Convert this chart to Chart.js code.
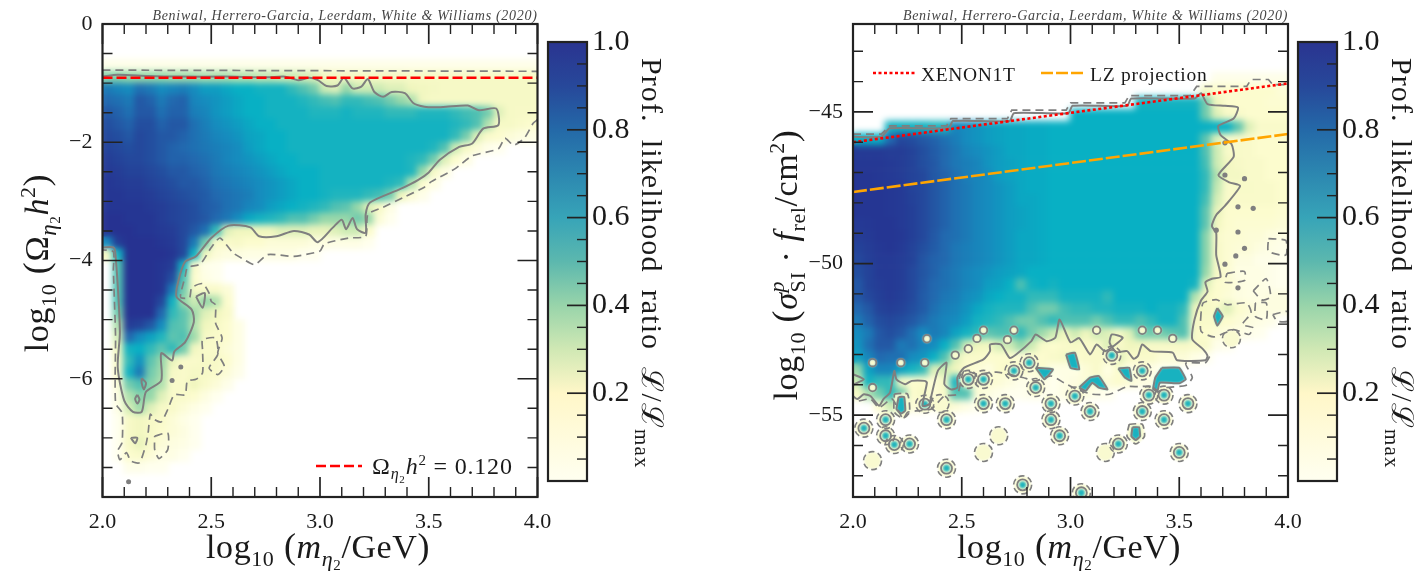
<!DOCTYPE html>
<html><head><meta charset="utf-8">
<script src="https://cdn.jsdelivr.net/npm/chart.js@4"></script>
<style>
html,body{margin:0;padding:0;background:#fff;width:1422px;height:573px;overflow:hidden}
canvas{position:absolute;top:0;filter:blur(0.45px)}
</style></head><body>
<canvas id="c1" width="565" height="573" style="left:0;width:565px;height:573px"></canvas>
<canvas id="b1" width="175" height="573" style="left:545px;width:175px;height:573px"></canvas>
<canvas id="c2" width="600" height="573" style="left:720px;width:600px;height:573px"></canvas>
<canvas id="b2" width="127" height="573" style="left:1295px;width:127px;height:573px"></canvas>
<script>
// ---------- axis ticks ----------
const xMajor=[2,2.5,3,3.5,4];
const xMinor=[2.1,2.2,2.3,2.4,2.6,2.7,2.8,2.9,3.1,3.2,3.3,3.4,3.6,3.7,3.8,3.9];
const leftYMajor=[0,-2,-4,-6,-8];
const leftYMinor=[-0.5,-1,-1.5,-2.5,-3,-3.5,-4.5,-5,-5.5,-6.5,-7,-7.5];
const rightYMajor=[-45,-50,-55];
const rightYMinor=[-43,-44,-46,-47,-48,-49,-51,-52,-53,-54,-56,-57];
const cbarMajor=[0.2,0.4,0.6,0.8,1.0];
const cbarMinor=[0.05,0.1,0.15,0.25,0.3,0.35,0.45,0.5,0.55,0.65,0.7,0.75,0.85,0.9,0.95];
// ---------- heat columns: x centres ----------
const heatX=[2.025,2.075,2.125,2.175,2.225,2.275,2.325,2.375,2.425,2.475,2.525,2.575,2.625,2.675,2.725,2.775,2.825,2.875,2.925,2.975,3.025,3.075,3.125,3.175,3.225,3.275,3.325,3.375,3.425,3.475,3.525,3.575,3.625,3.675,3.725,3.775,3.825,3.875,3.925,3.975];
// ---------- left panel: likelihood (percent), 0 = no samples ----------
const leftRowY=[-0.7,-0.9,-1.1,-1.3,-1.5,-1.7,-1.9,-2.1,-2.3,-2.5,-2.7,-2.9,-3.1,-3.3,-3.5,-3.7,-3.9,-4.1,-4.3,-4.5,-4.7,-4.9,-5.1,-5.3,-5.5,-5.7,-5.9,-6.1,-6.3,-6.5,-6.7,-6.9,-7.1,-7.3,-7.5];
const leftRows=[
[4,4,4,4,4,4,4,4,4,4,4,4,4,4,4,4,4,4,4,4,4,4,4,4,4,4,4,4,4,4,4,4,4,4,4,4,4,4,4,4],
[42,42,40,40,40,40,38,38,38,36,36,36,34,34,32,32,30,30,28,26,18,18,16,16,16,16,16,16,15,15,15,15,15,15,15,15,15,15,15,15],
[75,72,70,78,75,70,72,74,70,66,66,64,62,62,60,60,60,55,50,45,30,25,40,30,30,30,25,25,20,18,16,15,15,15,15,15,15,15,15,15],
[80,78,75,85,82,75,80,82,72,70,68,66,64,62,62,60,60,60,58,55,52,50,55,55,52,50,45,40,35,18,15,15,15,15,15,15,15,15,15,15],
[85,82,78,85,85,78,82,82,74,72,68,66,64,62,62,60,60,60,60,58,58,58,60,58,58,58,55,55,55,58,58,58,55,52,50,45,25,15,14,14],
[88,85,82,88,88,82,85,85,78,74,70,68,66,64,62,62,60,60,60,60,60,60,60,60,60,60,60,60,60,60,60,60,58,55,50,35,15,15,12,10],
[90,88,85,90,88,85,85,82,78,75,72,70,68,65,64,62,62,60,60,60,60,60,60,60,60,60,60,60,60,60,60,60,55,45,25,12,10,8,6,5],
[92,90,88,90,88,85,82,80,78,76,74,72,70,66,64,62,62,60,60,60,60,60,60,60,60,60,60,60,60,60,58,50,30,15,8,4,3],
[95,92,90,90,88,85,82,82,80,78,75,72,70,68,66,64,62,62,60,60,60,60,60,60,60,60,60,60,58,55,45,25,10,5],
[96,95,92,92,90,88,85,85,82,80,76,74,72,70,68,66,64,62,62,62,60,60,60,60,60,60,60,60,58,40,15,6],
[98,96,95,95,92,90,88,85,85,82,78,76,74,72,70,68,66,64,62,62,60,60,60,60,60,60,58,55,35,10,5],
[98,98,96,96,95,92,90,88,86,84,80,78,76,74,70,68,66,64,62,62,60,58,58,58,55,52,45,20,8,4],
[98,98,98,98,96,95,92,90,88,84,82,78,76,72,70,66,64,62,60,58,55,50,48,40,25,15,5],
[100,100,98,98,98,95,92,90,88,85,80,76,70,64,60,58,55,50,50,45,40,40,40,45,40,8,3],
[100,100,100,98,98,96,95,90,85,78,55,25,20,20,20,20,25,25,25,22,22,25,30,30,10],
[70,95,100,100,100,98,96,90,75,45,12,12,14,10,10,8,8,8,8,6,6,5,5,5,3],
[15,60,100,100,100,100,98,90,60,20,8,6,6,5,5,5,5,5,3,3],
[0,50,100,100,100,98,95,60,12,4,3],
[0,50,100,100,100,98,88,50,10,5,3],
[0,50,100,100,100,98,75,45,15,12,12,8],
[0,50,100,100,100,90,60,40,30,40,35,10],
[0,45,100,100,100,80,55,48,38,25,20,12],
[0,35,95,92,85,70,50,48,35,20,15,10,5],
[0,28,80,70,65,58,48,50,38,15,12,10,5],
[0,20,60,62,55,48,55,45,18,12,12,8,5],
[0,15,55,68,48,40,22,12,12,14,14,10,5],
[0,12,60,75,45,38,15,12,15,14,12,8,4],
[0,8,45,50,42,35,12,12,20,12,8,4],
[0,6,35,42,40,25,12,12,10,6,3],
[0,5,28,38,25,15,12,8,5,3],
[0,3,14,18,14,12,8,5,3],
[0,3,14,18,14,10,8,6,3],
[0,3,14,22,12,8,6,5,3],
[0,3,10,12,8,5,5,3],
[0,0,4,4,3,3]
];
// ---------- right panel: likelihood (percent) with first column of each row ----------
const rightRowY=[-43.9,-44.3,-44.7,-45.1,-45.5,-45.9,-46.3,-46.7,-47.1,-47.5,-47.9,-48.3,-48.7,-49.1,-49.5,-49.9,-50.3,-50.7,-51.1,-51.5,-51.9,-52.3,-52.7,-53.1,-53.5,-53.9,-54.3,-54.7];
const rightRowStart=[33,32,26,20,3,0,0,0,0,0,0,0,0,0,0,0,0,0,0,0,0,0,0,0,0,0,0,0];
const rightRows=[
[4,4,4,4,4,4,4],
[15,10,10,10,10,10,10,8],
[60,60,60,60,60,60,45,20,10,10,10,10,9,9],
[62,62,62,62,62,62,62,62,62,62,62,62,45,25,14,12,10,10,10,10],
[60,60,60,60,58,58,72,70,68,66,65,64,64,63,63,62,62,62,62,62,62,62,62,62,62,62,62,62,62,62,62,62,48,25,12,12,12,10,10,10],
[62,62,62,80,90,88,85,82,78,74,70,68,66,65,64,64,63,63,62,62,62,62,62,62,62,62,62,62,62,62,62,62,48,25,12,12,12,10,10,10],
[96,96,96,95,95,92,88,84,80,76,72,70,68,66,64,64,63,63,62,62,62,62,62,62,62,62,62,62,62,62,62,62,50,30,13,13,12,10,10,10],
[97,97,97,96,95,92,88,85,80,76,74,72,68,66,65,64,63,63,62,62,62,62,62,62,62,62,62,62,62,62,62,62,52,30,18,14,12,12,10,10],
[98,98,97,96,95,92,90,85,82,78,74,72,70,66,65,64,63,63,62,62,62,62,62,62,62,62,62,62,62,62,62,62,55,35,16,16,12,12,10,10],
[98,98,98,97,96,92,90,86,82,78,75,72,70,68,66,64,63,63,62,62,62,62,62,62,62,62,62,62,62,62,62,62,55,32,12,13,13,12,12,10],
[98,98,98,97,96,93,90,86,82,78,75,72,70,68,66,64,64,63,62,62,62,62,62,62,62,62,62,62,62,62,62,62,52,28,12,12,12,12,12,10],
[98,98,98,97,96,94,90,86,82,78,75,72,70,68,66,65,64,63,62,62,62,62,62,62,62,62,62,62,62,62,62,62,48,22,10,10,10,10,10,9],
[96,97,98,98,96,94,90,86,82,78,75,72,70,68,66,65,64,63,62,62,62,62,62,62,62,62,62,62,62,62,62,62,48,18,10,9,9,9,9,8],
[95,96,98,98,97,94,90,85,80,78,75,72,70,68,66,64,64,63,62,62,62,62,62,62,62,62,62,62,62,62,62,62,42,12,9,9,8,8,6,5],
[92,95,97,98,96,92,88,84,80,76,74,72,70,68,66,64,64,63,62,62,62,62,62,62,62,62,62,62,62,62,62,62,42,14,9,8,8,6,5,4],
[90,94,96,96,95,92,86,82,80,76,74,72,70,68,66,64,64,63,62,62,62,62,62,62,62,62,62,62,62,62,62,62,42,14,9,6,6,4,4,3],
[88,92,96,96,95,90,86,82,78,75,72,70,68,66,65,64,62,62,62,62,62,62,62,62,62,62,62,62,62,62,62,62,40,14,9,5,5,5,4,3],
[85,92,95,96,95,90,85,80,78,75,72,70,66,65,62,50,60,62,60,62,62,62,62,62,62,62,62,62,62,62,62,60,25,10,9,6,5,5,4,3],
[85,90,94,96,94,90,84,80,76,74,70,68,64,62,60,60,55,55,55,60,60,60,60,55,62,62,62,62,62,62,62,35,15,10,8,6,5,5,6,6],
[80,85,92,94,92,88,84,78,74,72,68,64,60,58,58,58,50,45,45,52,55,55,58,58,60,60,60,62,60,60,55,20,15,12,25,10,8,6,6,6],
[75,82,88,90,88,85,80,75,72,70,66,60,58,55,50,45,45,50,55,50,50,50,45,50,55,55,50,55,60,60,50,15,12,12,10,8,6,5,4],
[70,75,85,88,85,78,70,75,72,65,60,55,48,50,50,55,45,38,30,20,30,20,30,25,15,25,45,45,45,48,50,12,10,8,6,5,4,3],
[68,78,85,85,75,78,72,70,62,50,30,20,18,28,30,40,30,12,10,12,15,12,12,25,12,20,18,14,14,14,14,12,12,4,3],
[65,72,80,78,78,70,68,62,50,25,12,12,10,10,10,8,10,10,12,15,10,12,12,12,25,12,12,12,8,8,8,5,3],
[40,65,72,72,65,60,55,25,30,20,10,8,6,10,12,12,8,10,5,5,5,8,12,5,10,5,5,5,3,3],
[30,60,55,55,15,10,10,8,15,60,10,8,10,8,6,4,4,6,3,5,6,8,8,8,10,8,6,5,3],
[15,35,45,55,45,10,15,8,12,50,50,8,6,4,3,3,4,4,3,5,8,6,4,3],
[0,0,10,30,25,8,8,4,15,8,5,3]
];
// ---------- left contours (log10 m, log10 Omega h2) ----------
const leftSolid=[
[[2,-.89],[2.07,-.86],[2.21,-.88],[2.35,-.89],[2.56,-.89],[2.76,-.9],[2.84,-.89],[2.9,-.95],[2.95,-.91],[2.99,-.95],[3.03,-1.05],[3.08,-1.04],[3.11,-.91],[3.15,-1.09],[3.19,-1.06],[3.22,-.93],[3.25,-1.15],[3.29,-1.23],[3.33,-1.15],[3.39,-1.17],[3.43,-1.34],[3.48,-1.4],[3.53,-1.41],[3.58,-1.4],[3.68,-1.38],[3.73,-1.46],[3.81,-1.43],[3.82,-1.71],[3.75,-1.77],[3.7,-2.02],[3.64,-2.08],[3.55,-2.3],[3.5,-2.51],[3.45,-2.64],[3.37,-2.79],[3.23,-3.02],[3.21,-3.22],[3.21,-3.53],[3.17,-3.47],[3.15,-3.28],[3.12,-3.47],[3.1,-3.31],[3.06,-3.44],[2.99,-3.69],[2.95,-3.56],[2.88,-3.5],[2.8,-3.59],[2.72,-3.59],[2.68,-3.44],[2.58,-3.41],[2.5,-3.62],[2.43,-3.93],[2.38,-4.02],[2.35,-4.33],[2.34,-4.61],[2.41,-4.83],[2.42,-5.04],[2.38,-5.38],[2.33,-5.54],[2.32,-5.69],[2.27,-5.57],[2.27,-6.03],[2.2,-6.22],[2.18,-6.56],[2.14,-6.56],[2.1,-6.37],[2.07,-5.81],[2.08,-5.2],[2.06,-3.9],[2.05,-3.78],[2,-3.78]],
[[2.43,-4.61],[2.47,-4.55],[2.46,-4.8],[2.43,-4.61]],
[[2.18,-5.99],[2.2,-6.07],[2.19,-6.18],[2.18,-6.07],[2.18,-5.99]],
[[2.16,-6.27],[2.17,-6.35],[2.16,-6.42],[2.15,-6.34],[2.16,-6.27]],
[[2.13,-7],[2.16,-7],[2.15,-7.09],[2.13,-7]]
];
const leftDashed=[
[[2,-.78],[4,-.8]],
[[4,-1.62],[3.98,-1.68],[3.94,-1.93],[3.89,-2.05],[3.85,-1.93],[3.82,-2.11],[3.7,-2.23],[3.62,-2.45],[3.51,-2.67],[3.48,-2.76],[3.38,-2.94],[3.29,-3.1],[3.22,-3.22],[3.21,-3.59],[3.13,-3.62],[3.02,-3.72],[3,-3.84],[2.88,-3.93],[2.76,-3.9],[2.7,-4.07],[2.64,-3.96],[2.6,-3.87],[2.54,-3.62],[2.5,-3.78],[2.45,-4.06],[2.39,-4.12],[2.38,-4.27],[2.36,-4.55],[2.36,-4.63],[2.4,-4.63],[2.41,-4.46],[2.46,-4.39],[2.49,-4.55],[2.5,-4.69],[2.52,-4.75],[2.52,-5.06],[2.55,-5.31],[2.53,-5.56],[2.56,-5.79],[2.53,-5.93],[2.49,-5.82],[2.53,-5.59],[2.52,-5.31],[2.46,-5.34],[2.46,-5.51],[2.46,-5.9],[2.43,-6.01],[2.39,-6.04],[2.38,-6.27],[2.33,-6.27],[2.3,-6.52],[2.27,-6.73],[2.24,-6.69],[2.22,-6.6],[2.21,-6.91],[2.2,-7.11],[2.17,-7.42],[2.13,-7.39],[2.11,-7.25],[2.08,-7.37],[2.07,-7.22],[2.09,-7.08],[2.09,-6.58],[2.06,-6.41],[2.06,-5.28],[2.05,-4.16],[2.05,-3.85],[2,-3.82]],
[[2.24,-6.97],[2.3,-6.92],[2.3,-7.2],[2.26,-7.35],[2.24,-7.2],[2.24,-6.97]]
];
const leftDotsX=[2.32,2.12,2.36];
const leftDotsY=[-6.03,-7.74,-5.8];
const relicX=[2,4];
const relicY=[-0.91,-0.91];
// ---------- right contours (log10 m, log10 sigma) ----------
const rightSolid=[
[[2,-45.82],[2.13,-45.82],[2.17,-45.54],[2.44,-45.54],[2.46,-45.3],[2.72,-45.3],[2.74,-45.04],[2.99,-45.04],[3.01,-44.8],[3.26,-44.8],[3.28,-44.56],[3.57,-44.56],[3.6,-44.38],[3.63,-44.74],[3.71,-44.8],[3.77,-44.86],[3.75,-45.22],[3.68,-45.46],[3.69,-45.76],[3.74,-46.06],[3.75,-46.48],[3.68,-47.08],[3.73,-47.32],[3.78,-47.44],[3.71,-48.1],[3.67,-48.4],[3.65,-48.76],[3.67,-49],[3.67,-49.72],[3.69,-50.44],[3.65,-50.5],[3.62,-50.62],[3.63,-50.92],[3.6,-51.22],[3.57,-51.85],[3.56,-52.5],[3.61,-52.83],[3.63,-53.05],[3.62,-53.19],[3.49,-53.19],[3.47,-52.94],[3.37,-52.89],[3.33,-52.67],[3.31,-53.05],[3.29,-53.14],[3.26,-52.89],[3.21,-52.92],[3.18,-52.61],[3.19,-52.34],[3.24,-52.45],[3.16,-52.89],[3.12,-52.67],[3.09,-53],[3.04,-52.46],[3,-52.6],[2.95,-51.85],[2.93,-52.45],[2.89,-52.56],[2.84,-52.34],[2.82,-52.56],[2.75,-53],[2.72,-53.11],[2.68,-52.67],[2.63,-52.67],[2.63,-52.89],[2.6,-53.16],[2.51,-53.44],[2.48,-53.76],[2.48,-54.09],[2.45,-54.15],[2.42,-53.98],[2.43,-53.27],[2.39,-53.54],[2.36,-54.37],[2.35,-54.64],[2.32,-54.69],[2.34,-53.93],[2.33,-53.87],[2.27,-53.87],[2.24,-53.98],[2.2,-53.82],[2.19,-53.54],[2.17,-54.26],[2.14,-54.47],[2.12,-54.69],[2.08,-54.37],[2.05,-54.31],[2.02,-54.47],[2,-54.37]],
[[2,-53.65],[2.05,-53.82],[2,-54]]
];
const rightDashed=[
[[2,-45.73],[2.13,-45.73],[2.17,-45.46],[2.43,-45.46],[2.45,-45.22],[2.71,-45.22],[2.73,-44.94],[2.98,-44.94],[3,-44.7],[3.25,-44.7],[3.27,-44.46],[3.55,-44.46],[3.58,-44.16],[3.81,-44.16],[3.83,-43.93],[3.91,-43.93],[3.93,-44.1],[4,-44.1]],
[[3.64,-53.07],[3.62,-53.27],[3.53,-53.29],[3.56,-53.76],[3.53,-54.02],[3.44,-54.09],[3.4,-54.23],[3.36,-54.06],[3.31,-54.06],[3.26,-54.06],[3.18,-54.31],[3.1,-54.31],[3.03,-54.15],[2.97,-53.93],[2.91,-53.71],[2.84,-53.87],[2.78,-53.76],[2.66,-53.58],[2.57,-53.65],[2.51,-53.54],[2.48,-54.31],[2.42,-54.37],[2.36,-54.8],[2.29,-54.86],[2.25,-54.91],[2.23,-55.13],[2.18,-54.47],[2.12,-54.75],[2.08,-54.47],[2,-54.58]],
[[3.6,-51.63],[3.6,-52.23],[3.66,-52.42],[3.75,-52.18],[3.82,-52.34],[3.84,-52.12],[3.79,-52.01],[3.83,-51.63],[3.81,-51.3],[3.72,-51.36],[3.67,-51.19],[3.61,-51.3],[3.6,-51.63]],
[[3.85,-51.3],[3.85,-51.74],[3.9,-51.85],[3.9,-51.3],[3.85,-51.3]],
[[3.93,-51.68],[4,-51.58],[4,-51.9],[3.95,-51.9],[3.93,-51.68]],
[[3.91,-49.18],[3.99,-49.24],[3.99,-49.72],[3.91,-49.6],[3.91,-49.18]],
[[3.84,-50.9],[3.9,-50.5],[3.92,-51.1],[3.88,-51.2],[3.84,-50.9]],
[[3.72,-50.32],[3.8,-50.26],[3.8,-50.56],[3.71,-50.62],[3.72,-50.32]]
];
const rightHaloLoops=[
[[2.19,-54.3],[2.25,-54.3],[2.26,-54.9],[2.23,-55.1],[2.19,-54.9],[2.19,-54.3]],
[[3.27,-55.3],[3.33,-55.3],[3.34,-55.7],[3.3,-55.95],[3.26,-55.7],[3.27,-55.3]]
];
const rightIslands=[
[[3.42,-53.44],[3.5,-53.44],[3.53,-53.82],[3.5,-53.95],[3.41,-53.93],[3.4,-54.2],[3.38,-54.15],[3.39,-53.76],[3.42,-53.44]],
[[3.04,-54.09],[3.09,-53.76],[3.13,-53.71],[3.17,-54.15],[3.13,-54.09],[3.1,-53.93],[3.07,-54.2],[3.04,-54.09]],
[[3.22,-53.46],[3.27,-53.44],[3.28,-53.87],[3.25,-53.76],[3.22,-53.46]],
[[3.675,-51.47],[3.7,-51.74],[3.675,-52.05],[3.66,-51.74],[3.675,-51.47]],
[[2.84,-53.44],[2.92,-53.49],[2.88,-53.82],[2.84,-53.44]],
[[2.98,-53],[3.02,-52.94],[3.04,-53.49],[3,-53.44],[2.98,-53]],
[[2.21,-54.4],[2.235,-54.4],[2.24,-54.85],[2.22,-54.95],[2.2,-54.8],[2.21,-54.4]],
[[3.285,-55.4],[3.315,-55.4],[3.32,-55.7],[3.3,-55.82],[3.28,-55.7],[3.285,-55.4]]
];
// isolated sampled spots below the main region
const spotCoreX=[2.05,2.15,2.15,2.19,2.26,2.43,2.43,2.53,2.6,2.6,2.7,2.33,2.74,2.81,2.84,2.91,2.91,2.95,3.02,3.09,3.36,3.43,3.54,3.33,3.43,3.22,3.5,3.05,3.33,3.19,2.78];
const spotCoreY=[-55.43,-55.15,-55.68,-55.97,-55.95,-55.15,-56.75,-53.82,-53.82,-54.62,-54.62,-54.64,-53.54,-53.27,-54.09,-54.62,-55.15,-55.68,-54.37,-54.88,-54.34,-54.34,-54.62,-54.88,-55.15,-55.95,-56.23,-57.56,-53.54,-53.03,-57.3];
const spotPaleX=[2.09,2.4,2.67,2.6,3.16,3.74];
const spotPaleY=[-56.5,-54.62,-55.68,-56.23,-56.23,-52.48];
const ringX=[2.34,2.09,2.22,2.33,2.47,2.09,2.6,2.57,2.74,2.71,2.53,3.12,3.33,3.4,3.47];
const ringY=[-52.48,-53.27,-53.27,-53.27,-53.02,-54.09,-52.2,-52.47,-52.2,-52.51,-52.81,-52.2,-52.2,-52.2,-52.47];
const grayDotX=[3.71,3.8,3.77,3.84,3.77,3.67,3.8,3.76,3.71,3.77,3.71];
const grayDotY=[-46.02,-47.2,-48.13,-48.18,-48.96,-48.9,-49.5,-49.75,-50.02,-50.8,-47.08];
const xenonX=[2,4];
const xenonY=[-46,-44.06];
const lzX=[2,4];
const lzY=[-47.64,-45.73];

// ---------- colour scale ----------
const heatStops=[[0,255,255,245],[.03,255,255,238],[.1,252,252,206],[.2,240,246,190],[.3,205,235,180],[.4,150,215,170],[.5,80,192,178],[.62,8,176,196],[.7,22,140,190],[.8,34,105,175],[.9,36,72,156],[1,38,50,145]];
const barStops=[[0,'#fffff0'],[.1,'#fffbdc'],[.2,'#fff7c8'],[.3,'#d0e8b4'],[.4,'#98d4aa'],[.5,'#5cb8ae'],[.6,'#37a4b8'],[.7,'#2c87b0'],[.8,'#2469a8'],[.9,'#27489a'],[1,'#2a3490']];
function heatColor(p){
  const v=p/100;
  for(let i=1;i<heatStops.length;i++){
    const a=heatStops[i-1],b=heatStops[i];
    if(v<=b[0]){const t=(v-a[0])/(b[0]-a[0]);
      return `rgb(${a[1]+(b[1]-a[1])*t|0},${a[2]+(b[2]-a[2])*t|0},${a[3]+(b[3]-a[3])*t|0})`;}
  }
  return 'rgb(38,50,145)';
}
// ---------- helpers ----------
const SERIF='"Liberation Serif"';
function seg(t,s,dy,o){return Object.assign({t,s,dy:dy||0},o||{});}
function fontOf(g){return `${g.i?'italic ':''}${g.s}px ${g.f||SERIF}`;}
function rich(ctx,segs,x,y,opt){
  opt=opt||{};
  ctx.save();
  ctx.letterSpacing=(opt.ls||0)+'px';
  let w=0;
  segs.forEach(g=>{ctx.font=fontOf(g);if(!g.noAdv)w+=ctx.measureText(g.t).width;});
  ctx.translate(x,y);
  if(opt.rot)ctx.rotate(opt.rot);
  ctx.fillStyle=opt.color||'#1a1a1a';ctx.textBaseline='alphabetic';ctx.textAlign='left';
  let p=opt.align==='center'?-w/2:(opt.align==='right'?-w:0);
  segs.forEach(g=>{ctx.font=fontOf(g);ctx.fillText(g.t,p,g.dy);if(!g.noAdv)p+=ctx.measureText(g.t).width;});
  ctx.restore();
}
const points=pairs=>pairs.map(p=>({x:p[0],y:p[1]}));
const zipXY=(xs,ys)=>xs.map((x,i)=>({x,y:ys[i]}));
function cells(rowY,rows,starts){
  const out=[];
  rows.forEach((r,k)=>r.forEach((v,i)=>{
    if(v>0)out.push({x:heatX[i+(starts?starts[k]:0)],y:rowY[k],v});
  }));
  return out;
}
const GRAY='#7f7f7f';
const PALE='#f9fad0';
function heatDS(data){return{label:'likelihood',data,order:100,blurAfter:3.4,pointStyle:'rect',pointRadius:9,pointHoverRadius:9,pointBorderWidth:0,pointBackgroundColor:data.map(d=>heatColor(d.v))};}
function lineDS(pairs,o){return Object.assign({showLine:true,data:pairs,pointRadius:0,fill:false,borderColor:GRAY,borderWidth:2,order:20,tension:0.25},o||{});}
function dotDS(data,o){return Object.assign({data,pointStyle:'circle',pointBorderWidth:0,pointBackgroundColor:'transparent',pointBorderColor:GRAY,order:30},o||{});}

const panelConf={};
const panelPlugin={
  id:'panel',
  beforeDatasetsDraw(c){
    const a=c.chartArea,x=c.ctx;x.save();x.fillStyle='#fff';x.fillRect(a.left,a.top,a.width,a.height);x.restore();
  },
  beforeDatasetDraw(c,args){
    const d=c.data.datasets[args.index];
    if(d.pointDash)c.ctx.setLineDash(d.pointDash);
  },
  afterDatasetDraw(c,args){
    const d=c.data.datasets[args.index],x=c.ctx,a=c.chartArea;
    x.setLineDash([]);
    if(d.blurAfter){
      x.save();x.beginPath();x.rect(a.left,a.top,a.width,a.height);x.clip();
      x.filter=`blur(${d.blurAfter}px)`;x.drawImage(c.canvas,0,0);x.restore();
    }
  },
  afterDraw(c){
    const o=panelConf[c.canvas.id],a=c.chartArea,x=c.ctx,sx=c.scales.x,sy=c.scales.y;
    x.save();x.strokeStyle='#222';
    const tickV=(v,l)=>{const p=sx.getPixelForValue(v);x.beginPath();x.moveTo(p,a.bottom);x.lineTo(p,a.bottom-l);x.moveTo(p,a.top);x.lineTo(p,a.top+l);x.stroke();};
    const tickH=(v,l)=>{const p=sy.getPixelForValue(v);x.beginPath();x.moveTo(a.left,p);x.lineTo(a.left+l,p);x.moveTo(a.right,p);x.lineTo(a.right-l,p);x.stroke();};
    x.lineWidth=1.4;
    xMinor.forEach(v=>tickV(v,10));o.yMinor.forEach(v=>tickH(v,10));
    x.lineWidth=1.7;
    xMajor.forEach(v=>tickV(v,20));o.yMajor.forEach(v=>tickH(v,20));
    x.lineWidth=2.2;x.strokeRect(a.left,a.top,a.width,a.height);
    x.restore();
    o.draw(x,a);
  }
};
const noPad=s=>{s.paddingLeft=s.paddingRight=s.paddingTop=s.paddingBottom=0;};
function panel(id,datasets,o){
  panelConf[id]=o;
  return new Chart(document.getElementById(id),{
    type:'scatter',
    data:{datasets},
    plugins:[panelPlugin],
    options:{
      responsive:false,animation:false,
      layout:{padding:{left:0,top:o.top,right:o.right,bottom:0}},
      plugins:{legend:{display:false},tooltip:{enabled:false}},
      scales:{
        x:{type:'linear',min:2,max:4,grid:{display:false,drawTicks:false},border:{display:false},
          afterBuildTicks:s=>{s.ticks=xMajor.map(v=>({value:v}));},
          afterFit:s=>{s.height=o.xh;noPad(s);},
          ticks:{font:{family:'Liberation Serif',size:22},color:'#1a1a1a',padding:12,maxRotation:0,callback:v=>v.toFixed(1)}},
        y:{type:'linear',min:o.ymin,max:o.ymax,grid:{display:false,drawTicks:false},border:{display:false},
          afterBuildTicks:s=>{s.ticks=o.yMajorLabels.map(v=>({value:v}));},
          afterFit:s=>{s.width=o.yw;noPad(s);},
          ticks:{font:{family:'Liberation Serif',size:22},color:'#1a1a1a',padding:10,callback:v=>(v<0?'\u2212'+(-v):''+v)}}
      }
    }
  });
}
const credit='Beniwal, Herrero-Garcia, Leerdam, White & Williams (2020)';
function xLabel(x,cx){
  rich(x,[seg('log',34),seg('10',22,8),seg(' (',36,0),seg('m',34,0,{i:1}),seg('\u03b7',22,8,{i:1}),seg('2',15,12),seg('/GeV',34),seg(')',36)],cx,558,{align:'center',ls:.6});
}
// ---------- left panel ----------
panel('c1',[
  heatDS(cells(leftRowY,leftRows)),
  ...leftSolid.map(p=>lineDS(points(p))),
  ...leftDashed.map(p=>lineDS(points(p),{borderDash:[8,5],borderWidth:1.7,tension:.2,order:21})),
  dotDS(zipXY(leftDotsX,leftDotsY),{pointRadius:2.5,pointBackgroundColor:GRAY}),
  lineDS(zipXY(relicX,relicY),{borderColor:'#ff0000',borderWidth:2.6,borderDash:[10,4],tension:0,order:1})
],{
  top:24,right:27.5,xh:76,yw:102.5,ymin:-8,ymax:0,yMajor:leftYMajor,yMinor:leftYMinor,yMajorLabels:[0,-2,-4,-6],
  draw(x,a){
    rich(x,[seg(credit,14,0,{i:1})],a.right,19.5,{align:'right',color:'#444',ls:.7});
    x.save();x.strokeStyle='#ff0000';x.lineWidth=2.6;x.setLineDash([10,4]);x.beginPath();x.moveTo(316,466);x.lineTo(362,466);x.stroke();x.restore();
    rich(x,[seg('\u03a9',24),seg('\u03b7',16,5,{i:1}),seg('2',11,9),seg('h',24,0,{i:1}),seg('2',15,-9),seg(' = 0.120',24)],372,474,{ls:.8});
    xLabel(x,318);
    rich(x,[seg('log',34),seg('10',22,8),seg(' (',36),seg('\u03a9',34),seg('\u03b7',23,8,{i:1}),seg('2',15,12),seg('h',34,0,{i:1}),seg('2',22,-13),seg(')',36)],48,263,{rot:-Math.PI/2,align:'center',ls:.6});
  }
});
// ---------- right panel ----------
panel('c2',[
  heatDS(cells(rightRowY,rightRows,rightRowStart)),
  dotDS(zipXY(spotCoreX,spotCoreY),{pointRadius:8.5,pointBackgroundColor:PALE,order:95}),
  dotDS(zipXY(spotPaleX,spotPaleY),{pointRadius:8.5,pointBackgroundColor:PALE,order:95}),
  dotDS(zipXY(ringX,ringY),{pointRadius:3.8,pointBackgroundColor:PALE,order:95}),
  ...rightHaloLoops.map(p=>lineDS(points(p),{fill:'shape',backgroundColor:PALE,borderWidth:0,borderColor:'transparent',order:94,tension:.2})),
  dotDS(zipXY(spotCoreX,spotCoreY),{pointRadius:3.4,pointBackgroundColor:'#22b4bc',order:90}),
  ...rightIslands.map((p,i)=>lineDS(points(p),{fill:'shape',backgroundColor:'#18b2c0',borderWidth:0,borderColor:'transparent',order:i?88:87,tension:0.1,blurAfter:i?0:0.9})),
  ...rightSolid.map(p=>lineDS(points(p),{tension:.2})),
  ...rightIslands.map(p=>lineDS(points(p),{tension:.1,order:19})),
  ...rightDashed.map((p,i)=>lineDS(points(p),{borderDash:[8,5],borderWidth:1.7,tension:i?0.2:0,order:21})),
  ...rightHaloLoops.map(p=>lineDS(points(p),{borderDash:[7,4],borderWidth:1.7,tension:.2,order:21})),
  dotDS(zipXY(spotCoreX,spotCoreY),{pointRadius:5.5,pointBorderWidth:1.8}),
  dotDS(zipXY(spotCoreX,spotCoreY),{pointRadius:9,pointBorderWidth:1.6,pointDash:[6,3.5]}),
  dotDS(zipXY(spotPaleX,spotPaleY),{pointRadius:9,pointBorderWidth:1.6,pointDash:[6,3.5]}),
  dotDS(zipXY(ringX,ringY),{pointRadius:3.8,pointBorderWidth:1.8}),
  dotDS(zipXY(grayDotX,grayDotY),{pointRadius:2.6,pointBackgroundColor:GRAY}),
  lineDS(zipXY(lzX,lzY),{borderColor:'#ffa500',borderWidth:2.6,borderDash:[14,3],tension:0,order:2}),
  lineDS(zipXY(xenonX,xenonY),{borderColor:'#ff0000',borderWidth:2.6,borderDash:[3,2.5],tension:0,order:1})
],{
  top:24,right:32,xh:76,yw:133,ymin:-57.7,ymax:-42.1,yMajor:rightYMajor,yMinor:rightYMinor,yMajorLabels:rightYMajor,
  draw(x,a){
    rich(x,[seg(credit,14,0,{i:1})],a.right,19.5,{align:'right',color:'#444',ls:.7});
    x.save();x.lineWidth=2.4;
    x.strokeStyle='#ff0000';x.setLineDash([3,2.5]);x.beginPath();x.moveTo(153,73);x.lineTo(196,73);x.stroke();
    x.strokeStyle='#ffa500';x.setLineDash([12,3]);x.beginPath();x.moveTo(321,73);x.lineTo(364,73);x.stroke();
    x.restore();
    rich(x,[seg('XENON1T',19.5)],201,81,{ls:.65});
    rich(x,[seg('LZ projection',19.5)],370,81,{ls:.75});
    xLabel(x,349);
    rich(x,[seg('log',34),seg('10',22,8),seg(' (',36),seg('\u03c3',34,0,{i:1}),seg('p',22,-13,{i:1,noAdv:1}),seg('SI',22,8),seg(' \u00b7 ',34),seg('f',34,0,{i:1}),seg('rel',22,8),seg('/cm',34),seg('2',22,-13),seg(')',36)],77,265,{rot:-Math.PI/2,align:'center',ls:.6});
  }
});
// ---------- colour bars ----------
const cbarPlugin={
  id:'cbar',
  afterDraw(c){
    const a=c.chartArea,x=c.ctx,sy=c.scales.y;
    x.save();x.strokeStyle='#222';
    const t=(v,l)=>{const p=sy.getPixelForValue(v);x.beginPath();x.moveTo(a.right,p);x.lineTo(a.right-l,p);x.stroke();};
    x.lineWidth=1.4;cbarMinor.forEach(v=>t(v,10));
    x.lineWidth=1.7;cbarMajor.forEach(v=>t(v,20));
    x.lineWidth=2.2;x.strokeRect(a.left,a.top,a.width,a.height);
    x.restore();
    rich(x,[seg('Prof.  likelihood  ratio  ',30),seg('\u2112',30,0,{f:'"DejaVu Serif"'}),seg('/',30),seg('\u2112',30,0,{f:'"DejaVu Serif"'}),seg('max',21,7)],97,58,{rot:Math.PI/2,ls:1.1});
  }
};
function cbar(id,left,w){
  return new Chart(document.getElementById(id),{
    type:'bar',
    data:{labels:['L'],datasets:[{data:[1],barPercentage:1,categoryPercentage:1,borderWidth:0,
      backgroundColor(ctx){
        const a=ctx.chart.chartArea;if(!a)return '#888';
        const g=ctx.chart.ctx.createLinearGradient(0,a.bottom,0,a.top);
        barStops.forEach(s=>g.addColorStop(s[0],s[1]));return g;
      }}]},
    plugins:[cbarPlugin],
    options:{responsive:false,animation:false,
      layout:{padding:{left,top:42,right:0,bottom:92}},
      plugins:{legend:{display:false},tooltip:{enabled:false}},
      scales:{
        x:{display:false},
        y:{position:'right',min:0,max:1,grid:{display:false,drawTicks:false},border:{display:false},
          afterBuildTicks:s=>{s.ticks=cbarMajor.map(v=>({value:v}));},
          afterFit:s=>{s.width=w-left-39;noPad(s);},
          ticks:{font:{family:'Liberation Serif',size:30},color:'#1a1a1a',padding:5,callback:v=>v.toFixed(1)}}
      }
    }
  });
}
cbar('b1',3,175);
cbar('b2',3,127);
</script>
</body></html>
